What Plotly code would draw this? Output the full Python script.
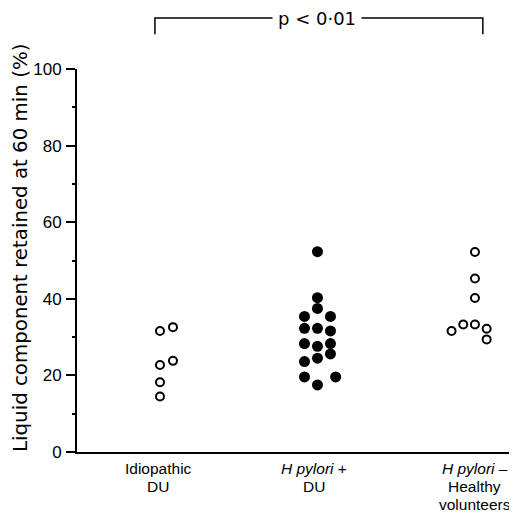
import plotly.graph_objects as go

group_labels = [["Idiopathic", "DU"],
                ["<i>H pylori</i> +", "DU"],
                ["<i>H pylori</i> \u2013", "Healthy", "volunteers"]]
idiopathic = [31.6, 32.6, 22.7, 23.8, 18.2, 14.5]
hp_pos_du = [52.3, 40.3, 37.5, 35.4, 35.4, 32.3, 32.3, 31.6, 28.3, 27.6, 28.3, 25.6, 24.5, 23.6, 19.6, 19.6, 17.5]
hp_neg_healthy = [52.2, 45.3, 40.2, 31.6, 33.3, 33.3, 32.2, 29.4]
# dot-plot column slots (arrangement within each group)
slots_1 = [0, 1, 0, 1, 0, 0]
slots_2 = [0, 0, 0, -1, 1, -1, 0, 1, -1, 0, 1, 1, 0, -1, -1, 1.4, 0]
slots_3 = [0, 0, 0, -1.8, -0.9, 0, 0.9, 0.9]
y_ticks = [0, 20, 40, 60, 80, 100]
y_minor = [10, 30, 50, 70, 90]
p_text = "p < 0\u00b701"
y_title = "Liquid component retained at 60 min (%)"

SLOT = 0.0825
ARIAL = "Liberation Sans, Arial, sans-serif"
WIDE = "DejaVu Sans, Verdana, sans-serif"

fig = go.Figure()
for gi, (vals, slots, filled) in enumerate([(idiopathic, slots_1, False), (hp_pos_du, slots_2, True), (hp_neg_healthy, slots_3, False)]):
    fig.add_trace(go.Scatter(
        x=[gi + 1 + s * SLOT for s in slots], y=vals, mode="markers",
        marker=dict(size=11 if filled else 8, color="black" if filled else "white",
                    symbol="circle", line=dict(color="black", width=0 if filled else 2)),
        showlegend=False, cliponaxis=False))

# the page body adds an 8px offset, so the figure is 8px smaller and margins are 8px less
fig.update_layout(
    width=509, height=506, margin=dict(l=69, r=0, t=61, b=62),
    paper_bgcolor="white", plot_bgcolor="white",
    font=dict(family=ARIAL, color="black"),
    xaxis=dict(range=[0.473, 3.267], showgrid=False, zeroline=False, automargin=False,
               showline=True, linecolor="black", linewidth=2, showticklabels=False, ticks=""),
    yaxis=dict(range=[0, 100], showgrid=False, zeroline=False, automargin=False,
               showline=True, linecolor="black", linewidth=2,
               tickvals=y_ticks, ticks="outside", ticklen=9,
               tickwidth=1.5, tickcolor="black", tickfont=dict(size=17), ticklabelstandoff=1,
               minor=dict(tickvals=y_minor, ticks="outside", ticklen=3, tickwidth=1.5, tickcolor="black")),
)

# y-axis title
fig.add_annotation(x=-0.127, y=0.533, xref="paper", yref="paper", text=y_title, textangle=-90,
                   xanchor="center", yanchor="middle",
                   showarrow=False, font=dict(size=19.8, family=WIDE))

# group labels, one annotation per line with a fixed line pitch
label_x = [0.99, 1.98, 3.0]
LINE = 18
for lx, lines in zip(label_x, group_labels):
    for k, line in enumerate(lines):
        fig.add_annotation(x=lx, y=0, xref="x", yref="paper", text=line, showarrow=False,
                           yanchor="middle", yshift=-16 - k * LINE,
                           font=dict(size=15.5, family=ARIAL))

# bracket
fig.add_shape(type="path", xref="x", yref="paper",
              path="M 0.968,1.091 L 0.968,1.133 L 3.05,1.133 L 3.05,1.091",
              line=dict(color="black", width=1.5))
fig.add_annotation(x=2.0, y=1.133, xref="x", yref="paper", text=p_text, showarrow=False,
                   font=dict(size=18, family=WIDE), bgcolor="white", borderpad=5, yanchor="middle")

fig.write_html("out.html")
